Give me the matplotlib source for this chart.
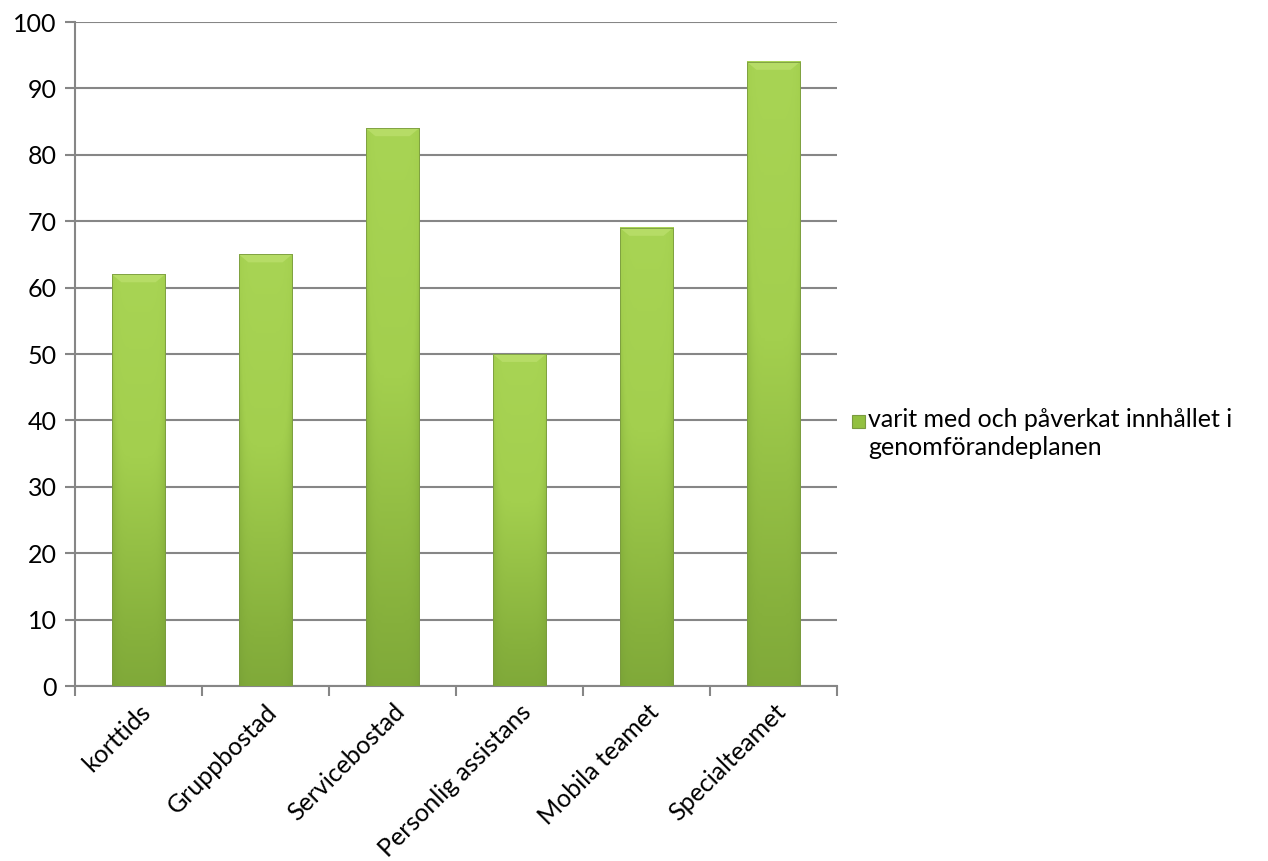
import numpy as np
import matplotlib.pyplot as plt
from matplotlib.colors import LinearSegmentedColormap
from matplotlib.patches import Rectangle, Polygon

plt.rcParams["font.family"] = ["Lato", "DejaVu Sans"]

categories = ["korttids", "Gruppbostad", "Servicebostad",
              "Personlig assistans", "Mobila teamet", "Specialteamet"]
values = [62, 65, 84, 50, 69, 94]
series_name = "varit med och påverkat innhållet i\ngenomförandeplanen"

GRID = "#868686"
FS = 18
green = LinearSegmentedColormap.from_list(
    "green", ["#6e9632", "#86b03c", "#a3cf4e", "#a8d454"])


def bar_shading(h_px=200, w_px=60):
    """Vertical light-to-dark gradient with darker side edges."""
    y = np.linspace(1, 0, h_px)[:, None]
    x = np.linspace(-1, 1, w_px)[None, :]
    side = 1 - 0.35 * np.abs(x) ** 6
    return (0.25 + 0.75 * y) * side


fig = plt.figure(figsize=(12.68, 8.61), dpi=100)
ax = fig.add_axes([75 / 1268, 1 - 686 / 861, 762 / 1268, 664 / 861])

x = np.arange(len(categories))
bars = ax.bar(x, values, width=0.42, color="none", zorder=3)
shade = bar_shading()
for b in bars:
    x0, w, h = b.get_x(), b.get_width(), b.get_height()
    ax.imshow(shade, cmap=green, vmin=0, vmax=1, aspect="auto",
              extent=[x0, x0 + w, 0, h], zorder=3, interpolation="bilinear")
    # bevelled top cap
    cap = 1.2
    inset = w * 0.18
    ax.add_patch(Polygon([(x0, h), (x0 + w, h), (x0 + w - inset, h - cap),
                          (x0 + inset, h - cap)], closed=True,
                         facecolor="#b6dc66", edgecolor="none", zorder=4))
    ax.add_patch(Rectangle((x0, 0), w, h, facecolor="none",
                           edgecolor="#7a9a40", lw=0.6, zorder=4))

ax.set_xlim(-0.5, len(categories) - 0.5)
ax.set_ylim(0, 100)
ax.set_yticks(np.arange(0, 101, 10))
ax.yaxis.grid(True, color=GRID, lw=1.5)
ax.set_axisbelow(True)

ax.set_xticks(x)
ax.set_xticklabels(categories, rotation=45, ha="right",
                   rotation_mode="anchor", fontsize=FS)
ax.set_xticks(np.arange(-0.5, len(categories)), minor=True)
ax.tick_params(axis="x", which="major", length=0, pad=10)
ax.tick_params(axis="x", which="minor", length=7, width=1.5, color=GRID)
ax.tick_params(axis="y", length=7, width=1.5, color=GRID, labelsize=FS, pad=6)

for s in ("top", "right"):
    ax.spines[s].set_visible(False)
for s in ("left", "bottom"):
    ax.spines[s].set_color(GRID)
    ax.spines[s].set_linewidth(1.5)

# legend entry to the right of the plot
fig.patches.append(Rectangle((852 / 1268, 1 - 428 / 861), 13 / 1268, 13 / 861,
                             transform=fig.transFigure, facecolor="#92c040",
                             edgecolor="#7a9a40", lw=0.8))
fig.text(868 / 1268, 1 - 408 / 861, series_name, fontsize=FS,
         va="top", ha="left", linespacing=1.25)

fig.savefig("out.png", dpi=100)
